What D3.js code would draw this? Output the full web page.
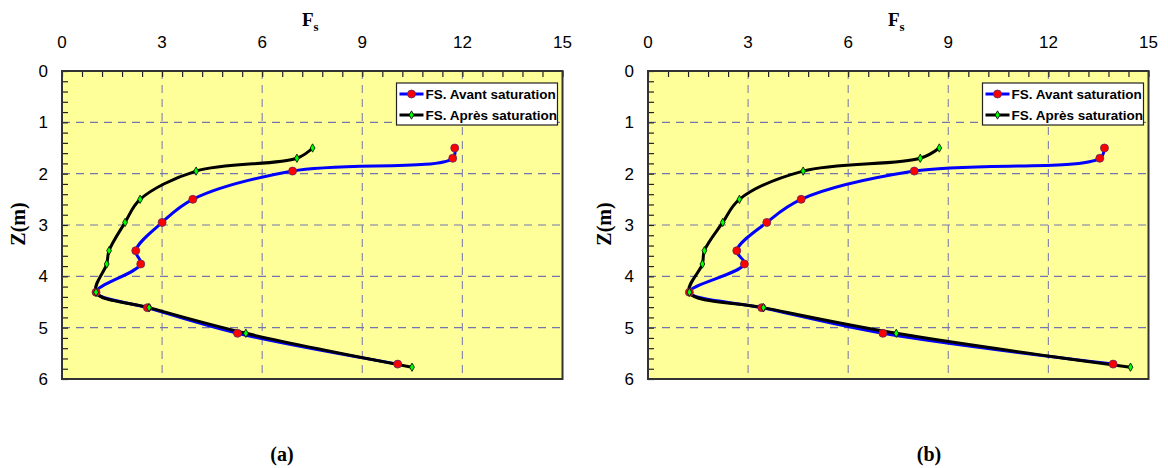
<!DOCTYPE html>
<html>
<head>
<meta charset="utf-8">
<script src="https://cdn.jsdelivr.net/npm/d3@7/dist/d3.min.js"></script>
<style>
  body { margin: 0; background: #fff; }
  svg { display: block; }
</style>
</head>
<body>
<svg id="chart" width="1168" height="468"></svg>
<script>
// ---- Data ----
const xTicks = [0, 3, 6, 9, 12, 15];
const yTicks = [0, 1, 2, 3, 4, 5, 6];
const seriesNames = ["FS. Avant saturation", "FS. Après saturation"];
const panelLabels = ["(a)", "(b)"];

// Panel (a)
const aAvantZ = [1.50, 1.70, 1.95, 2.50, 2.95, 3.50, 3.76, 4.31, 4.61, 5.11, 5.71];
const aAvantF = [11.77, 11.71, 6.91, 3.92, 3.00, 2.21, 2.36, 1.02, 2.56, 5.26, 10.06];
const aApresZ = [1.50, 1.70, 1.95, 2.50, 2.95, 3.50, 3.76, 4.31, 4.61, 5.11, 5.77];
const aApresF = [7.51, 7.04, 4.02, 2.34, 1.89, 1.41, 1.34, 1.02, 2.61, 5.51, 10.49];

// Panel (b)
const bAvantZ = [1.50, 1.70, 1.95, 2.50, 2.95, 3.50, 3.76, 4.31, 4.61, 5.11, 5.71];
const bAvantF = [13.68, 13.54, 7.98, 4.59, 3.56, 2.66, 2.89, 1.24, 3.41, 7.04, 13.94];
const bApresZ = [1.50, 1.70, 1.95, 2.50, 2.95, 3.50, 3.76, 4.31, 4.61, 5.11, 5.77];
const bApresF = [8.73, 8.16, 4.65, 2.74, 2.24, 1.69, 1.63, 1.24, 3.46, 7.44, 14.46];

const panels = [
  { left: 62, labelX: 282, label: panelLabels[0], avant: d3.zip(aAvantF, aAvantZ), apres: d3.zip(aApresF, aApresZ) },
  { left: 648, labelX: 929, label: panelLabels[1], avant: d3.zip(bAvantF, bAvantZ), apres: d3.zip(bApresF, bApresZ) }
];

const svg = d3.select("#chart");
const plotW = 500.5, plotTop = 71, plotBottom = 379;

panels.forEach(p => {
  const x = d3.scaleLinear().domain([0, 15]).range([p.left, p.left + plotW]);
  const y = d3.scaleLinear().domain([0, 6]).range([plotTop, plotBottom]);
  const g = svg.append("g");

  // plot background
  g.append("rect").attr("x", x(0)).attr("y", y(0))
    .attr("width", x(15) - x(0)).attr("height", y(6) - y(0))
    .attr("fill", "#ffff99");

  // grid
  g.selectAll(".vg").data(xTicks.filter(t => t > 0 && t < 15)).join("line")
    .attr("x1", d => x(d)).attr("x2", d => x(d)).attr("y1", y(0)).attr("y2", y(6))
    .attr("stroke", "#8a8aa8").attr("stroke-width", 1.2).attr("stroke-dasharray", "8,6");
  g.selectAll(".hg").data(yTicks.filter(t => t > 0 && t < 6)).join("line")
    .attr("x1", x(0)).attr("x2", x(15)).attr("y1", d => y(d)).attr("y2", d => y(d))
    .attr("stroke", "#7474b0").attr("stroke-width", 1.2).attr("stroke-dasharray", "8,6");

  // axes (top and left), ticks inside
  const xAxis = d3.axisTop(x).tickValues(d3.range(0, 15.001, 0.6)).tickSize(-6).tickFormat("");
  const xa = g.append("g").attr("transform", `translate(0,${y(0)})`).call(xAxis);
  const yAxis = d3.axisLeft(y).tickValues(d3.range(0, 6.001, 0.2)).tickSize(-6).tickFormat("");
  const ya = g.append("g").attr("transform", `translate(${x(0)},0)`).call(yAxis);
  [xa, ya].forEach(a => {
    a.select(".domain").remove();
    a.selectAll(".tick line").attr("stroke", "#222").attr("stroke-width", 1.2);
  });

  // tick labels
  g.selectAll(".xl").data(xTicks).join("text")
    .attr("x", d => x(d)).attr("y", 48)
    .attr("text-anchor", "middle")
    .attr("font-family", "Liberation Sans, Arial, sans-serif").attr("font-size", 17)
    .text(d => d);
  g.selectAll(".yl").data(yTicks).join("text")
    .attr("x", x(0) - 14).attr("y", d => y(d) + 6)
    .attr("text-anchor", "end")
    .attr("font-family", "Liberation Sans, Arial, sans-serif").attr("font-size", 17)
    .text(d => d);

  // border
  g.append("rect").attr("x", x(0)).attr("y", y(0))
    .attr("width", x(15) - x(0)).attr("height", y(6) - y(0))
    .attr("fill", "none").attr("stroke", "#333").attr("stroke-width", 2);

  // title Fs
  const t = g.append("text").attr("x", (x(0) + x(15)) / 2 - 2).attr("y", 26)
    .attr("text-anchor", "middle")
    .attr("font-family", "Liberation Serif, Times New Roman, serif").attr("font-weight", "bold")
    .attr("font-size", 19);
  t.append("tspan").text("F");
  t.append("tspan").attr("font-size", 13).attr("dy", 5).text("s");

  // y label
  g.append("text").attr("transform", `translate(${p.left - 37},224) rotate(-90)`)
    .attr("text-anchor", "middle")
    .attr("font-family", "Liberation Serif, Times New Roman, serif").attr("font-weight", "bold")
    .attr("font-size", 20).text("Z(m)");

  // panel label
  g.append("text").attr("x", p.labelX).attr("y", 461)
    .attr("text-anchor", "middle")
    .attr("font-family", "Liberation Serif, Times New Roman, serif").attr("font-weight", "bold")
    .attr("font-size", 20).text(p.label);

  // lines
  const line = d3.line().x(d => x(d[0])).y(d => y(d[1])).curve(d3.curveCatmullRom.alpha(0.5));
  g.append("path").datum(p.avant).attr("d", line)
    .attr("fill", "none").attr("stroke", "#0000ff").attr("stroke-width", 3);
  g.append("path").datum(p.apres).attr("d", line)
    .attr("fill", "none").attr("stroke", "#000").attr("stroke-width", 3);

  // markers
  g.selectAll(".rm").data(p.avant).join("circle")
    .attr("cx", d => x(d[0])).attr("cy", d => y(d[1])).attr("r", 4)
    .attr("fill", "#ff0000").attr("stroke", "#5a2a6a").attr("stroke-width", 0.8);
  const dia = d3.symbol().type(d3.symbolDiamond).size(20);
  g.selectAll(".gm").data(p.apres).join("path")
    .attr("transform", d => `translate(${x(d[0])},${y(d[1])})`)
    .attr("d", dia)
    .attr("fill", "#00ff00").attr("stroke", "#000").attr("stroke-width", 0.8);

  // legend
  const lx = x(15) - 166, ly = 83;
  const lg = g.append("g");
  lg.append("rect").attr("x", lx).attr("y", ly).attr("width", 161).attr("height", 42)
    .attr("fill", "#fff").attr("stroke", "#222").attr("stroke-width", 1.2);
  const rows = [
    { name: seriesNames[0], color: "#0000ff", marker: "circle" },
    { name: seriesNames[1], color: "#000", marker: "diamond" }
  ];
  rows.forEach((r, i) => {
    const cy = ly + 11 + i * 21;
    lg.append("line").attr("x1", lx + 3).attr("x2", lx + 27).attr("y1", cy).attr("y2", cy)
      .attr("stroke", r.color).attr("stroke-width", 3);
    if (r.marker === "circle") {
      lg.append("circle").attr("cx", lx + 15).attr("cy", cy).attr("r", 4)
        .attr("fill", "#ff0000").attr("stroke", "#5a2a6a").attr("stroke-width", 0.8);
    } else {
      lg.append("path").attr("transform", `translate(${lx + 15},${cy})`).attr("d", dia)
        .attr("fill", "#00ff00").attr("stroke", "#000").attr("stroke-width", 0.8);
    }
    lg.append("text").attr("x", lx + 29).attr("y", cy + 5)
      .attr("font-family", "Liberation Sans, Arial, sans-serif").attr("font-weight", "bold")
      .attr("font-size", 13.5).text(r.name);
  });
});
</script>
</body>
</html>
